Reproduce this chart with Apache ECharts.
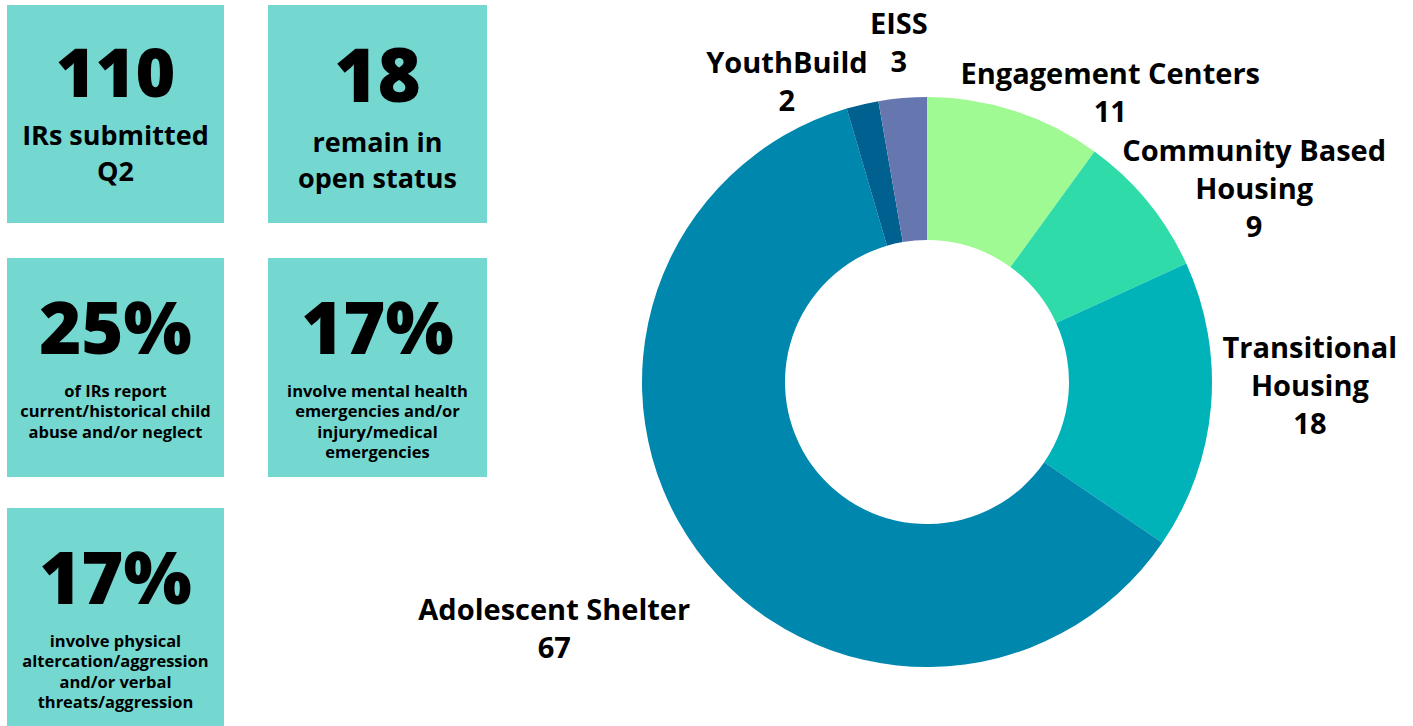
<!DOCTYPE html>
<html>
<head>
<meta charset="utf-8">
<title>Incident Reports Q2</title>
<script src="https://cdn.jsdelivr.net/npm/echarts@6/dist/echarts.min.js"></script>
<style>
  html, body { margin: 0; padding: 0; background: #ffffff; }
  #chart { width: 1413px; height: 726px; }
</style>
</head>
<body>
<div id="chart"></div>
<script>
// Incident reports by program
const programs = ['Engagement Centers', 'Community Based Housing', 'Transitional Housing', 'Adolescent Shelter', 'YouthBuild', 'EISS'];
const reportCounts = [11, 9, 18, 67, 2, 3];
// how each program name breaks over lines in its label
const programLabelLines = [
  ['Engagement Centers'],
  ['Community Based', 'Housing'],
  ['Transitional', 'Housing'],
  ['Adolescent Shelter'],
  ['YouthBuild'],
  ['EISS']
];

// Headline figures and their captions
const kpiFigures = ['110', '18', '25%', '17%', '17%'];
const kpiCaptions = [
  ['IRs submitted', 'Q2'],
  ['remain in', 'open status'],
  ['of IRs report', 'current/historical child', 'abuse and/or neglect'],
  ['involve mental health', 'emergencies and/or', 'injury/medical', 'emergencies'],
  ['involve physical', 'altercation/aggression', 'and/or verbal', 'threats/aggression']
];

// ---- styling / layout ----
const sliceColors = ['#A0FA94', '#2EDBA9', '#00B3B8', '#0087AE', '#00608F', '#6677AF'];
const FONT = '"Open Sans", "Lato", sans-serif';
const BOX_COLOR = '#74D8D0';

// KPI tiles: [left, top, width, height, caption first-line centre, big caption?]
const tiles = [
  [7, 5, 217, 218, 129, true],
  [268, 5, 219, 218, 136, true],
  [7, 258, 217, 219, 132, false],
  [268, 258, 219, 219, 132, false],
  [7, 508, 217, 230, 132, false]
];
const figureCentre = [65, 68, 68, 68, 68];
const figureSize = [68, 74, 72, 72, 72];

// label nudges away from the default outside anchor
const labelNudge = [[89, 0], [91, -1], [79, -24], [-126, 66], [-71, -4], [-2, -37]];

const graphics = [];
tiles.forEach((t, i) => {
  const [x, y, w, h, capMid, big] = t;
  const cx = x + w / 2;
  graphics.push({
    type: 'rect', silent: true,
    shape: { x: x, y: y, width: w, height: h },
    style: { fill: BOX_COLOR }
  });
  graphics.push({
    type: 'text', silent: true,
    style: {
      text: kpiFigures[i], x: cx, y: y + figureCentre[i],
      textAlign: 'center', textVerticalAlign: 'middle',
      font: '800 ' + figureSize[i] + 'px ' + FONT, fill: '#000'
    }
  });
  const lh = big ? 36 : 20.5;
  graphics.push({
    type: 'text', silent: true,
    style: {
      text: kpiCaptions[i].join('\n'), x: cx, y: y + capMid - lh / 2,
      textAlign: 'center', textVerticalAlign: 'top',
      lineHeight: lh,
      font: (big ? '700 27px ' : '700 16.5px ') + FONT, fill: '#000'
    }
  });
});

const chart = echarts.init(document.getElementById('chart'), null, { renderer: 'svg' });

chart.setOption({
  backgroundColor: '#ffffff',
  animation: false,
  graphic: graphics,
  series: [{
    type: 'pie',
    center: [927, 382],
    radius: [142, 285],
    startAngle: 90,
    clockwise: true,
    avoidLabelOverlap: false,
    silent: true,
    itemStyle: { borderWidth: 0 },
    label: {
      show: true,
      position: 'outside',
      distanceToLabelLine: 0,
      formatter: p => programLabelLines[p.dataIndex].map(l => '{t|' + l + '}').join('\n') + '\n{t|' + p.value + '}',
      rich: {
        t: { align: 'center', fontFamily: FONT, fontWeight: 700, fontSize: 29, lineHeight: 38, color: '#000' }
      }
    },
    labelLine: { show: false, length: 20, length2: 0 },
    labelLayout: p => ({
      align: 'center',
      verticalAlign: 'middle',
      dx: labelNudge[p.dataIndex][0],
      dy: labelNudge[p.dataIndex][1]
    }),
    data: programs.map((name, i) => ({
      name: name,
      value: reportCounts[i],
      itemStyle: { color: sliceColors[i] }
    }))
  }]
});
</script>
</body>
</html>
